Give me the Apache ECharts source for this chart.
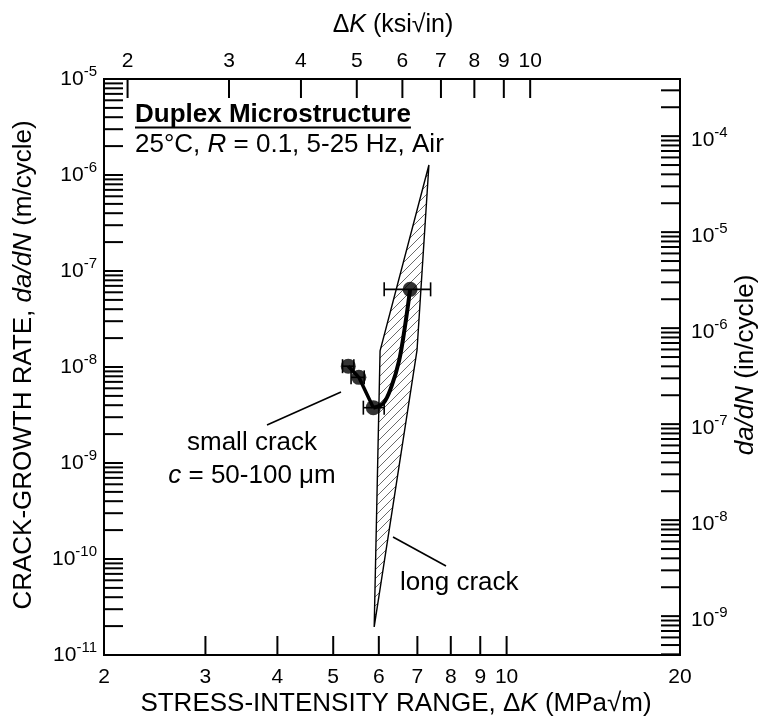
<!DOCTYPE html>
<html><head><meta charset="utf-8">
<script src="https://cdn.jsdelivr.net/npm/echarts@6/dist/echarts.min.js"></script>
<style>html,body{margin:0;padding:0;background:#fff}#c{width:763px;height:720px}</style>
</head><body><div id="c"></div>
<script>
// ---------- data ----------
// small-crack data points: ΔK (MPa√m), da/dN (m/cycle), ΔK error-bar limits
const pointK     = [5.31, 5.54, 5.87, 6.80];
const pointRate  = [1.02e-8, 7.8e-9, 3.77e-9, 6.44e-8];
const pointKLo   = [5.19, 5.37, 5.64, 6.13];
const pointKHi   = [5.43, 5.66, 6.13, 7.38];
// thick line joining the first three points
const connectK    = [5.31, 5.54, 5.87];
const connectRate = [1.02e-8, 7.8e-9, 3.77e-9];
// curved trend from third point up to the highest point
const curveK    = [5.87, 6.11, 6.31, 6.51, 6.66, 6.80];
const curveRate = [3.77e-9, 4.19e-9, 6.24e-9, 1.18e-8, 2.63e-8, 6.44e-8];
// long-crack scatter band (hatched polygon vertices)
const bandK    = [7.33, 6.99, 5.89, 6.03];
const bandRate = [1.27e-6, 1.50e-8, 1.96e-11, 1.47e-8];
// axis ticks / labels
const xTickMPa  = [3, 4, 5, 6, 7, 8, 9, 10];
const xLabelMPa = [2, 3, 4, 5, 6, 7, 8, 9, 10, 20];
const xTickKsi  = [2, 3, 4, 5, 6, 7, 8, 9, 10];
const yDecadesM  = [-11, -10, -9, -8, -7, -6, -5];
const yDecadesIn = [-9, -8, -7, -6, -5, -4];
const minorMult  = [2, 3, 4, 5, 6, 7, 8, 9];

const X_MIN = 2, X_MAX = 20, Y_MIN = 1e-11, Y_MAX = 1e-5;
const KSI_TO_MPA = 1.0988, IN_TO_M = 0.0254;
const TICK = 19;
const FONT = "'Liberation Sans', Arial, Helvetica, sans-serif";

// tick values on each side
const leftTicks = [];
yDecadesM.forEach(e => { leftTicks.push(Math.pow(10, e)); if (e < -5) minorMult.forEach(m => leftTicks.push(m * Math.pow(10, e))); });
const rightTicks = [];
[-10, -9, -8, -7, -6, -5, -4].forEach(e => {
  if (e > -10) rightTicks.push(Math.pow(10, e));
  minorMult.forEach(m => rightTicks.push(m * Math.pow(10, e)));
});
const rightTicksM = rightTicks.map(v => v * IN_TO_M).filter(v => v >= Y_MIN * 1.0001 && v <= Y_MAX * 0.9999);

function tickSeries(data, dx, dy) {
  return {
    type: 'custom', silent: true, z: 6, clip: false,
    data: data,
    renderItem(params, api) {
      const p = api.coord([api.value(0), api.value(1)]);
      return { type: 'line', shape: { x1: p[0], y1: p[1], x2: p[0] + dx, y2: p[1] + dy },
        style: { stroke: '#000', lineWidth: 2 } };
    }
  };
}
const richPow = {
  b: { fontSize: 21, lineHeight: 29, fontFamily: FONT, fill: '#000' },
  s: { fontSize: 15, lineHeight: 15, fontFamily: FONT, fill: '#000', verticalAlign: 'top' }
};
function powLabelSeries(data, expOf, side) {
  return {
    type: 'custom', silent: true, z: 6, clip: false,
    data: data,
    renderItem(params, api) {
      const p = api.coord([api.value(0), api.value(1)]);
      const e = expOf(params.dataIndex);
      return { type: 'text', x: side === 'left' ? p[0] - 7 : p[0] + 11, y: p[1] + (side === 'left' ? 0 : 4),
        style: { text: '{b|10}{s|' + e + '}', rich: richPow,
          align: side === 'left' ? 'right' : 'left', verticalAlign: 'middle' } };
    }
  };
}
function numLabelSeries(data, labels, dy) {
  return {
    type: 'custom', silent: true, z: 6, clip: false,
    data: data,
    renderItem(params, api) {
      const p = api.coord([api.value(0), api.value(1)]);
      return { type: 'text', x: p[0], y: p[1] + dy,
        style: { text: String(labels[params.dataIndex]), font: '21px ' + FONT, fill: '#000',
          align: 'center', verticalAlign: 'middle' } };
    }
  };
}

// hatch pattern
const hc = document.createElement('canvas'); hc.width = 9; hc.height = 9;
const hg = hc.getContext('2d'); hg.strokeStyle = '#444'; hg.lineWidth = 0.8;
hg.beginPath(); hg.moveTo(0, 9); hg.lineTo(9, 0); hg.moveTo(-2, 2); hg.lineTo(2, -2); hg.moveTo(7, 11); hg.lineTo(11, 7); hg.stroke();

const chart = echarts.init(document.getElementById('c'), null, { renderer: 'canvas' });

const meas = document.createElement('canvas').getContext('2d');
meas.font = 'bold 26px ' + FONT;
const duplexW = meas.measureText('Duplex Microstructure').width;

const rich26 = { n: { font: '26px ' + FONT, fill: '#000' }, i: { font: 'italic 26px ' + FONT, fill: '#000' } };

const option = {
  backgroundColor: '#fff',
  animation: false,
  grid: { left: 104, right: 83, top: 79, bottom: 65, show: true, borderColor: '#000', borderWidth: 2, backgroundColor: 'transparent', z: 7 },
  xAxis: { type: 'log', logBase: 10, min: X_MIN, max: X_MAX,
    axisLine: { show: false }, axisTick: { show: false }, axisLabel: { show: false }, splitLine: { show: false } },
  yAxis: { type: 'log', logBase: 10, min: Y_MIN, max: Y_MAX,
    axisLine: { show: false }, axisTick: { show: false }, axisLabel: { show: false }, splitLine: { show: false } },
  series: [
    // long-crack band
    {
      type: 'custom', silent: true, z: 1, clip: false,
      data: bandK.map((k, i) => [k, bandRate[i]]),
      renderItem(params, api) {
        if (params.dataIndex !== 0) return null;
        const pts = bandK.map((k, i) => api.coord([k, bandRate[i]]));
        return { type: 'polygon', shape: { points: pts },
          style: { fill: { image: hc, repeat: 'repeat' }, stroke: '#000', lineWidth: 1.4, lineJoin: 'miter' } };
      }
    },
    { type: 'line', z: 3, data: connectK.map((k, i) => [k, connectRate[i]]), showSymbol: false, silent: true,
      lineStyle: { color: '#000', width: 3.5 } },
    { type: 'line', z: 3, data: curveK.map((k, i) => [k, curveRate[i]]), showSymbol: false, silent: true, smooth: 0.35,
      lineStyle: { color: '#000', width: 4 } },
    // error bars
    {
      type: 'custom', silent: true, z: 4, clip: false,
      data: pointK.map((k, i) => [k, pointRate[i], pointKLo[i], pointKHi[i]]),
      renderItem(params, api) {
        const a = api.coord([api.value(2), api.value(1)]);
        const b = api.coord([api.value(3), api.value(1)]);
        const st = { stroke: '#000', lineWidth: 1.6 };
        return { type: 'group', children: [
          { type: 'line', shape: { x1: a[0], y1: a[1], x2: b[0], y2: b[1] }, style: st },
          { type: 'line', shape: { x1: a[0], y1: a[1] - 7, x2: a[0], y2: a[1] + 7 }, style: st },
          { type: 'line', shape: { x1: b[0], y1: b[1] - 7, x2: b[0], y2: b[1] + 7 }, style: st }
        ] };
      }
    },
    { type: 'scatter', z: 5, silent: true, symbol: 'circle', symbolSize: 15,
      itemStyle: { color: '#000' }, data: pointK.map((k, i) => [k, pointRate[i]]) },
    // ticks
    tickSeries(xTickMPa.map(v => [v, Y_MIN]), 0, -TICK),
    tickSeries(xTickKsi.map(v => [v * KSI_TO_MPA, Y_MAX]), 0, TICK),
    tickSeries(leftTicks.map(v => [X_MIN, v]), TICK, 0),
    tickSeries(rightTicksM.map(v => [X_MAX, v]), -TICK, 0),
    // labels
    numLabelSeries(xLabelMPa.map(v => [v, Y_MIN]), xLabelMPa, 22),
    numLabelSeries(xTickKsi.map(v => [v * KSI_TO_MPA, Y_MAX]), xTickKsi, -18),
    powLabelSeries(yDecadesM.map(e => [X_MIN, Math.pow(10, e)]), i => yDecadesM[i], 'left'),
    powLabelSeries(yDecadesIn.map(e => [X_MAX, Math.pow(10, e) * IN_TO_M]), i => yDecadesIn[i], 'right')
  ],
  graphic: [
    { type: 'text', x: 393, y: 25, style: { text: '{n|Δ}{i|K}{n| (ksi√in)}', align: 'center', verticalAlign: 'middle',
      rich: { n: { font: '25px ' + FONT, fill: '#000' }, i: { font: 'italic 25px ' + FONT, fill: '#000' } } } },
    { type: 'text', x: 396, y: 704, style: { text: '{n|STRESS-INTENSITY RANGE, Δ}{i|K}{n| (MPa√m)}', align: 'center', verticalAlign: 'middle', rich: rich26 } },
    { type: 'text', x: 24, y: 365, rotation: Math.PI / 2, style: { text: '{n|CRACK-GROWTH RATE, }{i|da/dN}{n| (m/cycle)}', align: 'center', verticalAlign: 'middle', rich: rich26 } },
    { type: 'text', x: 746, y: 365, rotation: Math.PI / 2, style: { text: '{i|da/dN}{n| (in/cycle)}', align: 'center', verticalAlign: 'middle', rich: rich26 } },
    { type: 'text', x: 135, y: 115, style: { text: 'Duplex Microstructure', font: 'bold 26px ' + FONT, fill: '#000', align: 'left', verticalAlign: 'middle' } },
    { type: 'line', shape: { x1: 135, y1: 127.5, x2: 135 + duplexW, y2: 127.5 }, style: { stroke: '#000', lineWidth: 2 } },
    { type: 'text', x: 135, y: 145, style: { text: '{n|25°C, }{i|R}{n| = 0.1, 5-25 Hz, Air}', align: 'left', verticalAlign: 'middle', rich: rich26 } },
    { type: 'text', x: 252, y: 443, style: { text: 'small crack', font: '26px ' + FONT, fill: '#000', align: 'center', verticalAlign: 'middle' } },
    { type: 'text', x: 252, y: 476, style: { text: '{i|c}{n| = 50-100 μm}', align: 'center', verticalAlign: 'middle', rich: rich26 } },
    { type: 'line', shape: { x1: 267, y1: 425, x2: 341, y2: 392 }, style: { stroke: '#000', lineWidth: 1.6 } },
    { type: 'text', x: 400, y: 583, style: { text: 'long crack', font: '26px ' + FONT, fill: '#000', align: 'left', verticalAlign: 'middle' } },
    { type: 'line', shape: { x1: 393, y1: 537, x2: 446, y2: 566 }, style: { stroke: '#000', lineWidth: 1.6 } }
  ]
};
chart.setOption(option);
</script>
</body></html>
